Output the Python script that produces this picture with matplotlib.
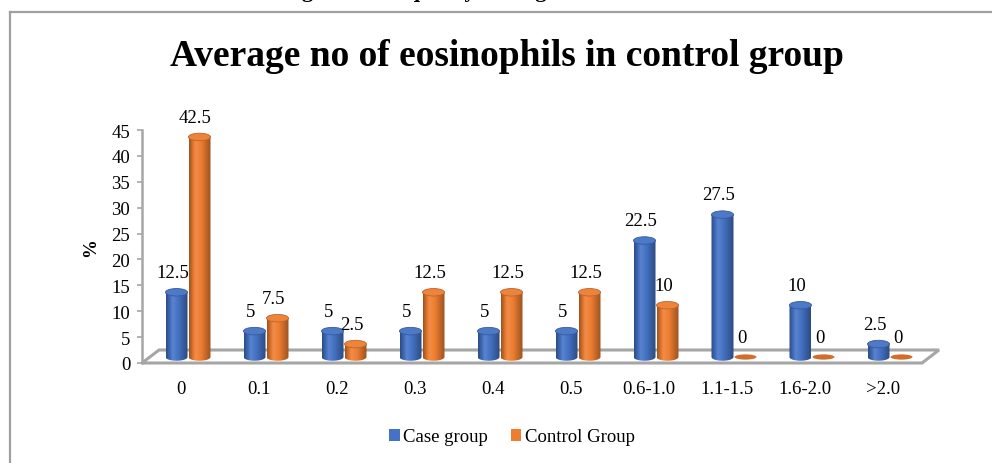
import numpy as np
import matplotlib
matplotlib.use('Agg')
import matplotlib.pyplot as plt
from matplotlib.patches import Ellipse, Polygon, Patch
from matplotlib.lines import Line2D
from matplotlib.colors import to_rgb

# ---------------- data ----------------
categories = ['0', '0.1', '0.2', '0.3', '0.4', '0.5', '0.6-1.0', '1.1-1.5', '1.6-2.0', '>2.0']
case_values = [12.5, 5, 5, 5, 5, 5, 22.5, 27.5, 10, 2.5]
control_values = [42.5, 7.5, 2.5, 12.5, 12.5, 12.5, 10, 0, 0, 0]
series_names = ['Case group', 'Control Group']
y_ticks = [0, 5, 10, 15, 20, 25, 30, 35, 40, 45]
title = 'Average no of eosinophils in control group'
caption = 'Figure 4: Frequency of diagnosis of the studied'

# ---------------- style ----------------
FONT = 'Liberation Serif'
plt.rcParams['font.family'] = [FONT, 'DejaVu Serif']
blue = '#4472C4'
orange = '#ED7D31'
grid_gray = '#A6A6A6'
FS = 13.5

W, H = 992, 464
fig = plt.figure(figsize=(W / 100, H / 100), dpi=100)

# axes: x in category units (78 px each), y in value units
px_per_cat = 78.0
ax_left_px, ax_right_px = 142, 944
ax_bot_px, ax_top_px = 364, 131
ax = fig.add_axes([ax_left_px / W, (H - ax_bot_px) / H,
                   (ax_right_px - ax_left_px) / W, (ax_bot_px - ax_top_px) / H])
xlim = (-0.5, -0.5 + (ax_right_px - ax_left_px) / px_per_cat)
ylim = (0, 45)
px_per_val = (ax_bot_px - ax_top_px) / 45.0

# depth of floor (in data units)
dx = 17 / px_per_cat
dy = 13 / px_per_val

# floor parallelogram
n = len(categories)
floor = Polygon([(-0.5, 0), (n - 0.5, 0), (n - 0.5 + dx, dy), (-0.5 + dx, dy)],
                closed=True, facecolor='white', edgecolor=grid_gray, lw=2.2,
                zorder=1, clip_on=False, joinstyle='miter')
ax.add_patch(floor)

bar_w = 22 / px_per_cat
base = 6 / px_per_val
ell_h = 7.5 / px_per_val
pair_off = 7 / px_per_cat
half = 11.5 / px_per_cat


def shade(c, f):
    c = np.array(to_rgb(c))
    if f >= 0:
        return c + (1 - c) * f
    return c * (1 + f)


def gradient(c):
    t = np.linspace(0, 1, 256)
    pts = [0.0, 0.3, 0.55, 1.0]
    fac = [-0.35, 0.12, 0.0, -0.35]
    f = np.interp(t, pts, fac)
    cols = np.array([shade(c, v) for v in f])
    return cols[np.newaxis, :, :]


def cylinder(cx, val, color, z):
    x0, x1 = cx - bar_w / 2, cx + bar_w / 2
    top = base + val
    if val <= 0:
        e = Ellipse((cx, base), bar_w, ell_h * 0.7, facecolor=shade(color, -0.12),
                    edgecolor='none', zorder=z, clip_on=False)
        ax.add_patch(e)
        return
    ang = np.linspace(np.pi, 2 * np.pi, 60)
    bx = cx + bar_w / 2 * np.cos(ang)
    by = base + ell_h / 2 * np.sin(ang)
    verts = list(zip(bx, by)) + [(x1, top), (x0, top)]
    clip = Polygon(verts, closed=True, transform=ax.transData)
    im = ax.imshow(gradient(color), extent=[x0, x1, base - ell_h / 2, top],
                   aspect='auto', interpolation='bilinear', zorder=z, clip_on=True)
    im.set_clip_path(clip)
    e = Ellipse((cx, top), bar_w, ell_h, facecolor=shade(color, 0.05),
                edgecolor=shade(color, -0.2), lw=0.6, zorder=z + 0.1, clip_on=False)
    ax.add_patch(e)


for i in range(n):
    cb = i + pair_off - half
    co = i + pair_off + half
    cylinder(cb, case_values[i], blue, 3 + i * 0.01)
    cylinder(co, control_values[i], orange, 3.005 + i * 0.01)
    for cx, v in ((cb, case_values[i]), (co, control_values[i])):
        ax.text(cx - 4 / px_per_cat, base + v + 3.8, f'{v:g}', ha='center', va='center',
                fontsize=FS, family=FONT, color='black', zorder=10)

ax.set_xlim(*xlim)
ax.set_ylim(*ylim)
ax.set_facecolor('none')
for s in ['top', 'right', 'bottom']:
    ax.spines[s].set_visible(False)
ax.spines['left'].set_color(grid_gray)
ax.spines['left'].set_linewidth(1.8)
ax.set_yticks(y_ticks)
ax.set_yticklabels([str(t) for t in y_ticks], fontsize=FS, family=FONT)
ax.tick_params(axis='y', length=3.5, width=1.2, color=grid_gray, pad=5)
ax.set_xticks(range(n))
ax.set_xticklabels(categories, fontsize=FS, family=FONT)
ax.tick_params(axis='x', length=0, pad=12)
ax.set_ylabel('%', fontsize=FS, fontweight='bold', family=FONT, labelpad=9)

# title
fig.text(507 / W, 1 - 57 / H, title, ha='center', va='center', fontsize=27,
         fontweight='bold', family=FONT)

# partially cut caption above the chart frame (as in the source page)
fig.text(505 / W, 1 + 3 / H, caption, ha='center', va='baseline', fontsize=16,
         fontweight='bold', family=FONT)

# legend
handles = [Patch(facecolor=blue, edgecolor='none'), Patch(facecolor=orange, edgecolor='none')]
fig.legend(handles, series_names, loc='center', bbox_to_anchor=(512 / W, 1 - 438 / H),
           ncol=2, frameon=False, handlelength=0.55, handleheight=0.55,
           handletextpad=0.2, columnspacing=1.2, prop={'family': FONT, 'size': FS})

# chart frame
fig.add_artist(Line2D([10 / W, 1], [1 - 13 / H, 1 - 13 / H], transform=fig.transFigure,
                      color='#A0A0A0', lw=1.6))
fig.add_artist(Line2D([10 / W, 10 / W], [1 - 13 / H, 0], transform=fig.transFigure,
                      color='#A0A0A0', lw=1.6))

fig.savefig('out.png', dpi=100)
